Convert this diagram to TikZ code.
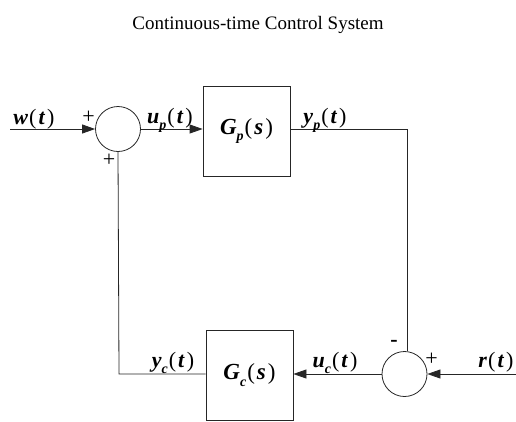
\documentclass[tikz,border=0pt]{standalone}
\usepackage{fontspec}
\setmainfont{Liberation Serif}
\usetikzlibrary{arrows.meta,positioning}
\newcommand{\bv}[1]{\textbf{\textit{#1}}}
\newcommand{\sub}[1]{\raisebox{-0.3em}{\fontsize{14}{14}\selectfont\bv{#1}}}
\newcommand{\sig}[2]{\bv{#1}\sub{#2}\kern1pt(\kern2pt\bv{t}\kern2pt)}

\begin{document}
\begin{tikzpicture}[x=1pt,y=-1pt,
    wire/.style={line width=0.8pt, draw=black!85},
    sumnode/.style={wire, circle, minimum size=45pt, inner sep=0pt},
    blockbox/.style={wire, minimum width=87pt, minimum height=90pt,
      font=\fontsize{23}{23}\selectfont},
    sigarrow/.style={wire, -{Triangle[length=13pt,width=9pt]}},
    lbl/.style={font=\fontsize{22}{22}\selectfont, inner sep=0pt, anchor=base},
    signlbl/.style={font=\fontsize{22}{22}\selectfont, inner sep=0pt}]
\useasboundingbox (0,0) rectangle (516,421);

% Title
\node[font=\fontsize{19}{19}\selectfont] (title) at (258,25) {Continuous-time Control System};

% Summing junctions and blocks
\node[sumnode] (sumA) at (118,129) {};
\node[blockbox] (plant) at (246.5,131) {\bv{G}\sub{p}\kern1pt(\kern2pt\bv{s}\kern2pt)};
\node[blockbox] (ctrl) at (249.5,375) {\bv{G}\sub{c}\kern1pt(\kern2pt\bv{s}\kern2pt)};
\node[sumnode] (sumB) at (404.5,374) {};

% Free ends and corners
\coordinate (win) at (10,129);
\coordinate (rin) at (516,374);
\coordinate (cornerR) at (407,129);
\coordinate (cornerL) at (119,374);

% Forward path
\draw[sigarrow] (win) -- (sumA.west);
\draw[sigarrow] (sumA.east) -- (sumA.east -| plant.west);
\draw[wire] (plant.east |- sumA) -- (cornerR) -- (cornerR |- sumB.north);

% Feedback path
\draw[sigarrow] (rin) -- (sumB.east);
\draw[sigarrow] (sumB.west) -- (sumB.west -| ctrl.east);
\draw[wire] (ctrl.west |- sumB) -- (cornerL) -- (sumA.south);

% Signal labels
\node[lbl] (wlbl) at (34,124) {\bv{w}\kern1pt(\kern2pt\bv{t}\kern2pt)};
\node[lbl] (uplbl) at (170,123) {\sig{u}{p}};
\node[lbl] (yplbl) at (325,123) {\sig{y}{p}};
\node[lbl] (yclbl) at (173,367) {\sig{y}{c}};
\node[lbl] (uclbl) at (335,367) {\sig{u}{c}};
\node[lbl] (rlbl) at (496,367) {\bv{r}\kern1pt(\kern2pt\bv{t}\kern2pt)};

% Signs
\node[signlbl] (plusA) at (88.5,117.5) {+};
\node[signlbl] (plusB) at (109,160.5) {+};
\node[font=\fontsize{22}{22}\selectfont\bfseries, inner sep=0pt] (minusB) at (394,343) {-};
\node[signlbl] (plusC) at (431.5,359.5) {+};
\end{tikzpicture}
\end{document}
